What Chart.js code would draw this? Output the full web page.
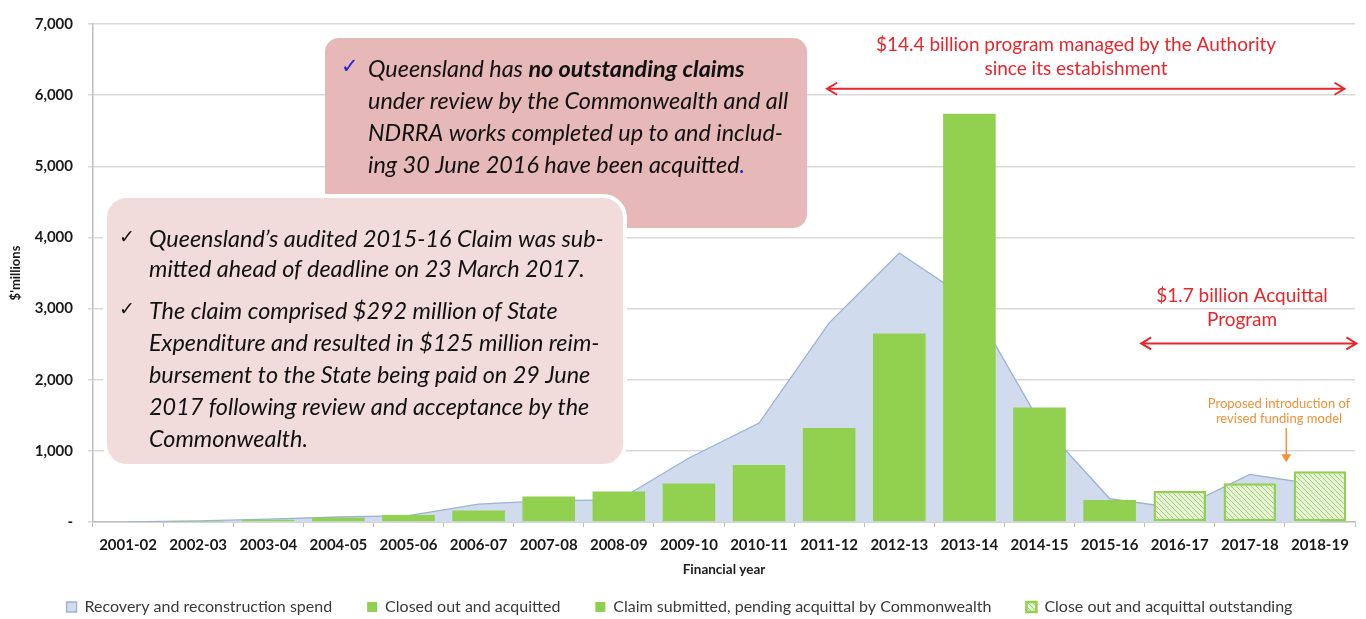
<!DOCTYPE html>
<html>
<head>
<meta charset="utf-8">
<title>NDRRA acquittal program</title>
<script src="https://cdn.jsdelivr.net/npm/chart.js@4.4.1/dist/chart.umd.min.js"></script>
<style>
  html, body { margin: 0; padding: 0; background: #fff; }
  #wrap { position: relative; width: 1366px; height: 619px; }
</style>
</head>
<body>
<div id="wrap"><canvas id="acquittalChart"></canvas></div>
<script>
// financial years on the x axis
const years = ['2001-02', '2002-03', '2003-04', '2004-05', '2005-06', '2006-07', '2007-08', '2008-09', '2009-10',
    '2010-11', '2011-12', '2012-13', '2013-14', '2014-15', '2015-16', '2016-17', '2017-18', '2018-19'];

// $ millions
const recoverySpend = [0, 15, 40, 70, 90, 250, 300, 310, 900, 1390, 2800, 3780, 3120, 1410, 330, 190, 670, 520];
const closedOut = [0, 5, 30, 60, 100, 160, 360, 430, 540, 800, 1320, 2650, 5740, 1610, 310, null, null, null];
const pendingAcquittal = [null, null, null, null, null, null, null, null, null, null, null, null, null, null, null, null, null, null];
const outstanding = [null, null, null, null, null, null, null, null, null, null, null, null, null, null, null, 435, 545, 715];

const yTicks = [0, 1000, 2000, 3000, 4000, 5000, 6000, 7000];

const FONT = 'Lato, "Open Sans", sans-serif';

function hatchPattern() {
    const p = document.createElement('canvas');
    p.width = 5; p.height = 5;
    const g = p.getContext('2d');
    g.fillStyle = '#e7f4d8';
    g.fillRect(0, 0, 5, 5);
    g.strokeStyle = '#a0d36c';
    g.lineWidth = 1;
    g.beginPath();
    g.moveTo(-1, -1); g.lineTo(6, 6);
    g.moveTo(-1, 4); g.lineTo(1, 6);
    g.moveTo(4, -1); g.lineTo(6, 1);
    g.stroke();
    return g.createPattern(p, 'repeat');
}

function arrow(c, x1, x2, y, color) {
    c.save();
    c.strokeStyle = color;
    c.lineWidth = 2;
    c.beginPath();
    c.moveTo(x1, y); c.lineTo(x2, y);
    c.moveTo(x1 + 10, y - 6); c.lineTo(x1, y); c.lineTo(x1 + 10, y + 6);
    c.moveTo(x2 - 10, y - 6); c.lineTo(x2, y); c.lineTo(x2 - 10, y + 6);
    c.stroke();
    c.restore();
}

function roundBox(c, x, y, w, h, r, fill, stroke) {
    c.save();
    c.beginPath();
    c.roundRect(x, y, w, h, r);
    c.fillStyle = fill;
    c.fill();
    if (stroke) { c.strokeStyle = stroke; c.lineWidth = 4; c.stroke(); }
    c.restore();
}

// draws one line made of [text, bold, colour] parts
function richLine(c, parts, x, y, size) {
    parts.forEach(p => {
        c.font = 'italic ' + (p[1] ? 'bold ' : '') + size + 'px ' + FONT;
        c.fillStyle = p[2] || '#111';
        c.fillText(p[0], x, y);
        x += c.measureText(p[0]).width;
    });
}

const calloutPlugin = {
    id: 'callouts',
    afterDraw(chart) {
        const c = chart.ctx;
        const xs = chart.scales.x, ys = chart.scales.y;

        // red program spans
        c.save();
        c.fillStyle = '#e8262c';
        c.textAlign = 'center';
        c.textBaseline = 'middle';
        c.font = '19px ' + FONT;
        c.fillText('$14.4 billion program managed by the Authority', 1076, 45);
        c.fillText('since its estabishment', 1076, 69);
        c.fillText('$1.7 billion Acquittal', 1242, 296);
        c.fillText('Program', 1242, 320);
        c.fillStyle = '#f0923a';
        c.font = '13px ' + FONT;
        c.fillText('Proposed introduction of', 1279, 404);
        c.fillText('revised funding model', 1279, 419);
        c.restore();
        arrow(c, xs.getPixelForValue(9.97), xs.getPixelForValue(17.35), ys.getPixelForValue(6090), '#e8262c');
        arrow(c, xs.getPixelForValue(14.45), xs.getPixelForValue(17.52), ys.getPixelForValue(2510), '#e8262c');

        // orange arrow pointing at 2018-19
        const ox = xs.getPixelForValue(16.52);
        const oy = ys.getPixelForValue(840);
        c.save();
        c.strokeStyle = '#f0923a';
        c.fillStyle = '#f0923a';
        c.lineWidth = 1.5;
        c.beginPath(); c.moveTo(ox, 428); c.lineTo(ox, oy - 6); c.stroke();
        c.beginPath(); c.moveTo(ox - 5, oy - 8); c.lineTo(ox + 5, oy - 8); c.lineTo(ox, oy); c.closePath(); c.fill();
        c.restore();

        // callout boxes
        c.save();
        c.textBaseline = 'middle';
        const s = 23.4;
        roundBox(c, 325, 38, 482, 190, 14, '#e6b8b7');
        c.font = '21px "DejaVu Sans"';
        c.fillStyle = '#2222dd';
        c.fillText('\u2713', 341, 68);
        richLine(c, [['Queensland has ', false], ['no outstanding claims', true]], 368, 69, s);
        richLine(c, [['under review by the Commonwealth and all', false]], 368, 101, s);
        richLine(c, [['NDRRA works completed up to and includ-', false]], 368, 133, s);
        richLine(c, [['ing 30 June 2016 have been acquitted', false], ['.', false, '#2222dd']], 368, 165, s);

        roundBox(c, 105, 196, 520, 270, 22, '#f2dcdb', '#ffffff');
        c.font = '19px "DejaVu Sans"';
        c.fillStyle = '#111';
        c.fillText('\u2713', 119, 238);
        c.fillText('\u2713', 119, 310);
        const lines2 = [
            ['Queensland\u2019s audited 2015-16 Claim was sub-', 239],
            ['mitted ahead of deadline on 23 March 2017.', 269],
            ['The claim comprised $292 million of State', 311],
            ['Expenditure and resulted in $125 million reim-', 343],
            ['bursement to the State being paid on 29 June', 375],
            ['2017 following review and acceptance by the', 407],
            ['Commonwealth.', 439]
        ];
        lines2.forEach(l => richLine(c, [[l[0], false]], 149, l[1], s));
        c.restore();
    }
};

document.addEventListener('DOMContentLoaded', function () {
    const ctx = document.getElementById('acquittalChart');
    const green = '#92d050';

    new Chart(ctx, {
        type: 'bar',
        data: {
            labels: years,
            datasets: [{
                type: 'line',
                label: 'Recovery and reconstruction spend',
                data: recoverySpend,
                fill: 'origin',
                backgroundColor: '#d0dcee',
                borderColor: '#9cb2d4',
                borderWidth: 1.3,
                tension: 0,
                pointRadius: 0,
                order: 3
            }, {
                label: 'Closed out and acquitted',
                data: closedOut,
                backgroundColor: green,
                borderWidth: 0,
                order: 1
            }, {
                label: 'Claim submitted, pending acquittal by Commonwealth',
                data: pendingAcquittal,
                backgroundColor: '#8fcf4e',
                borderWidth: 0,
                order: 1
            }, {
                label: 'Close out and acquittal outstanding',
                data: outstanding,
                backgroundColor: hatchPattern(),
                borderColor: green,
                borderWidth: 2.5,
                borderSkipped: false,
                order: 1
            }]
        },
        options: {
            responsive: true,
            maintainAspectRatio: false,
            animation: false,
            layout: { padding: { top: 15, right: 11, left: 4, bottom: -6 } },
            datasets: {
                bar: { categoryPercentage: 1, barPercentage: 0.75 }
            },
            scales: {
                x: {
                    stacked: true,
                    afterFit(scale) { scale.height = 42; },
                    grid: { display: true, drawOnChartArea: false, color: '#bfbfbf', tickLength: 5 },
                    border: { color: '#bfbfbf', width: 1.5 },
                    ticks: { color: '#1a1a1a', font: { family: FONT, size: 15, weight: 'bold' }, maxRotation: 0, padding: 9 },
                    title: {
                        display: true, text: 'Financial year', color: '#1a1a1a',
                        font: { family: FONT, size: 13.5, weight: 'bold' }, padding: { top: 0, bottom: -14 }
                    }
                },
                y: {
                    stacked: false,
                    min: 0,
                    max: 7000,
                    afterFit(scale) { scale.width = 89; },
                    afterBuildTicks(scale) { scale.ticks = yTicks.map(v => ({ value: v })); },
                    grid: { color: '#d9d9d9', lineWidth: 1.5, tickLength: 5 },
                    border: { color: '#bfbfbf', width: 1.5 },
                    ticks: {
                        color: '#1a1a1a',
                        font: { family: FONT, size: 15, weight: 'bold' },
                        padding: 15,
                        callback: v => v === 0 ? '-' : v.toLocaleString('en-US')
                    },
                    title: { display: true, text: "$'millions", color: '#1a1a1a', font: { family: FONT, size: 13, weight: 'bold' }, padding: 4 }
                }
            },
            plugins: {
                legend: {
                    position: 'bottom',
                    labels: {
                        color: '#3a3a3a',
                        boxWidth: 10,
                        boxHeight: 10,
                        padding: 35,
                        font: { family: FONT, size: 16 },
                        sort: (a, b) => a.datasetIndex - b.datasetIndex
                    }
                },
                tooltip: { enabled: false }
            }
        },
        plugins: [calloutPlugin]
    });
});
</script>
</body>
</html>
